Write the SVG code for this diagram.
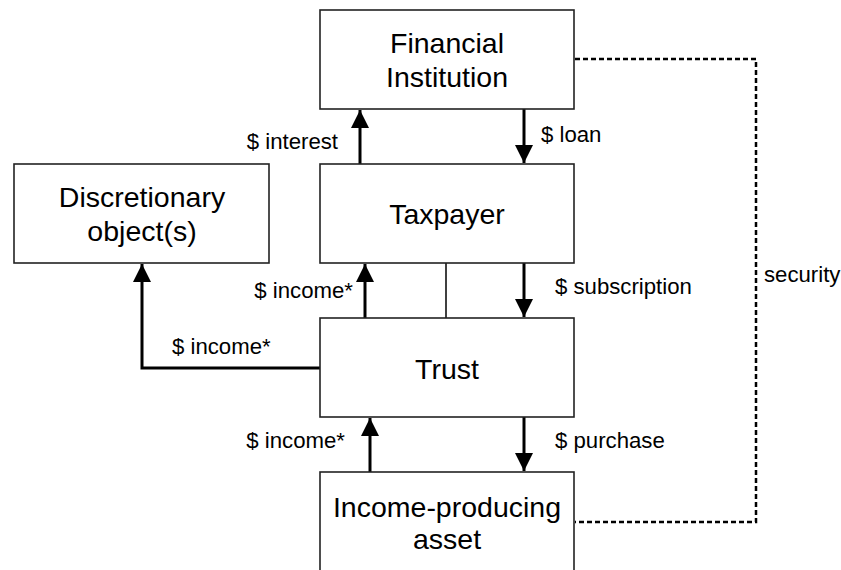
<svg xmlns="http://www.w3.org/2000/svg" width="841" height="570" viewBox="0 0 841 570">
<style>
.box{fill:#fff;stroke:#222;stroke-width:1.6}
.bt{font-family:"Liberation Sans",Arial,sans-serif;font-size:28.5px;fill:#000;text-anchor:middle}
.lb{font-family:"Liberation Sans",Arial,sans-serif;font-size:22.2px;fill:#000}
.arr{fill:none;stroke:#000;stroke-width:3;marker-end:url(#ah)}
.thin{fill:none;stroke:#000;stroke-width:1.5}
.dash{fill:none;stroke:#000;stroke-width:2.5;stroke-dasharray:5 3}
</style>
<defs>
<marker id="ah" markerUnits="userSpaceOnUse" markerWidth="18" markerHeight="18" viewBox="0 0 18 18" refX="18" refY="9" orient="auto">
<path d="M0,0 L18,9 L0,18 z" fill="#000"/>
</marker>
</defs>
<rect width="841" height="570" fill="#fff"/>
<g id="connectors">
<line class="arr" x1="360" y1="164" x2="360" y2="110"/>
<line class="arr" x1="524" y1="109" x2="524" y2="163"/>
<line class="arr" x1="365" y1="318" x2="365" y2="264"/>
<line class="thin" x1="446" y1="263" x2="446" y2="318"/>
<line class="arr" x1="524" y1="263" x2="524" y2="317"/>
<polyline class="arr" points="320,368 142,368 142,264"/>
<line class="arr" x1="370" y1="472" x2="370" y2="418"/>
<line class="arr" x1="524" y1="417" x2="524" y2="471"/>
<polyline class="dash" points="575,59 756,59 756,522 575,522"/>
<text class="lb" x="338" y="149" text-anchor="end">$ interest</text>
<text class="lb" x="541" y="142">$ loan</text>
<text class="lb" x="353" y="298" text-anchor="end">$ income*</text>
<text class="lb" x="555" y="294">$ subscription</text>
<text class="lb" x="172" y="354">$ income*</text>
<text class="lb" x="345" y="448" text-anchor="end">$ income*</text>
<text class="lb" x="555" y="448">$ purchase</text>
<text class="lb" x="764" y="282">security</text>
</g>
<g id="financial-institution">
<rect class="box" x="320" y="10" width="254" height="99"/>
<text class="bt" x="447" y="53">Financial</text>
<text class="bt" x="447" y="87">Institution</text>
</g>
<g id="taxpayer">
<rect class="box" x="320" y="164" width="254" height="99"/>
<text class="bt" x="447" y="224">Taxpayer</text>
</g>
<g id="discretionary">
<rect class="box" x="14" y="164" width="255" height="99"/>
<text class="bt" x="142" y="207">Discretionary</text>
<text class="bt" x="142" y="241">object(s)</text>
</g>
<g id="trust">
<rect class="box" x="320" y="318" width="254" height="99"/>
<text class="bt" x="447" y="379">Trust</text>
</g>
<g id="asset">
<rect class="box" x="320" y="472" width="254" height="110"/>
<text class="bt" x="447" y="517">Income-producing</text>
<text class="bt" x="447" y="549">asset</text>
</g>
</svg>
